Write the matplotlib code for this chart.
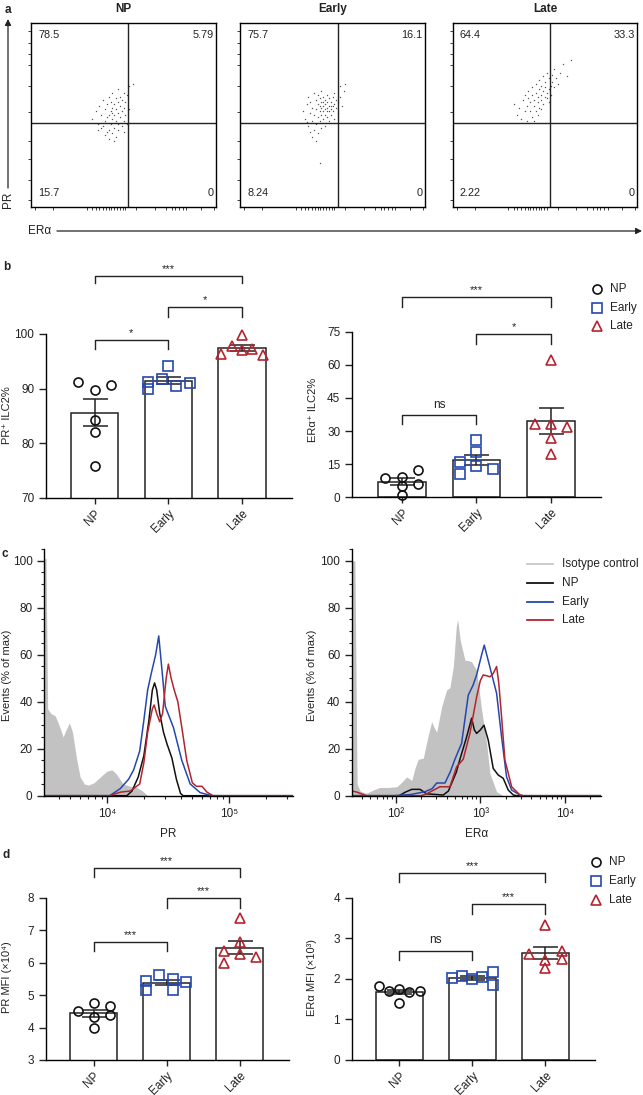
import numpy as np
import matplotlib
matplotlib.use('Agg')
import matplotlib.pyplot as plt
from matplotlib.lines import Line2D
from matplotlib.ticker import FixedLocator, FuncFormatter, MultipleLocator, LogLocator, NullFormatter

plt.rcParams['font.family'] = ['Liberation Sans', 'DejaVu Sans']
plt.rcParams['axes.linewidth'] = 1.0
plt.rcParams['xtick.color'] = '#222222'
plt.rcParams['ytick.color'] = '#222222'

# ---------------- data ----------------
groups = ['NP', 'Early', 'Late']
colors = ['#111111', '#2548b0', '#b3242f']
markers = ['o', 's', '^']

# panel a: quadrant percentages (UL, UR, LL, LR)
a_quads = [[78.5, 5.79, 15.7, 0], [75.7, 16.1, 8.24, 0], [64.4, 33.3, 2.22, 0]]
a_gate_x = [52.3, 53.0, 52.9]
a_gate_y = 45.8
np_dots = [(33,48),(35,52),(36,45),(37,55),(38,50),(38,43),(39,58),(40,47),(40,53),(41,41),(41,56),(42,50),
           (42,60),(43,45),(43,52),(43,57),(44,48),(44,54),(44,62),(45,43),(45,50),(45,56),(46,47),(46,53),
           (46,59),(47,51),(47,45),(47,64),(48,49),(48,55),(48,60),(49,44),(49,52),(49,58),(50,47),(50,54),
           (50,62),(51,50),(51,57),(52,45),(52,61),(53,53),(53,66),(44,40),(46,38),(40,39),(42,37),(36,42),
           (39,44),(47,42),(45,36),(42,42),(50,41),(55,67),(41,49),(47,57),(44,51)]
early_dots = [(34,52),(35,48),(36,56),(37,44),(37,60),(38,51),(38,57),(39,47),(39,54),(40,62),(40,50),(41,45),
              (41,58),(41,53),(42,49),(42,56),(42,61),(43,52),(43,47),(43,59),(44,54),(44,50),(44,57),(44,63),
              (45,48),(45,55),(45,52),(45,60),(46,56),(46,50),(46,53),(46,58),(47,54),(47,49),(47,61),(47,57),
              (48,52),(48,55),(48,59),(48,47),(49,53),(49,57),(49,50),(50,55),(50,60),(50,52),(51,56),(51,48),
              (51,62),(52,54),(52,58),(53,51),(53,57),(54,60),(55,55),(56,63),(57,67),(54,66),(40,42),(42,40),
              (39,38),(41,36),(44,43),(46,44),(38,41),(36,46),(43,24),(45,57),(47,52),(43,55),(49,55)]
late_dots = [(33,56),(35,50),(36,54),(37,48),(38,58),(39,52),(39,61),(40,47),(40,55),(41,59),(41,63),(42,52),
             (42,57),(43,49),(43,61),(43,65),(44,55),(44,58),(45,52),(45,62),(45,67),(46,57),(46,60),(47,54),
             (47,64),(47,69),(48,58),(48,61),(48,66),(49,56),(49,63),(49,71),(50,60),(50,65),(50,68),(51,59),
             (51,73),(51,62),(52,64),(52,70),(53,66),(53,61),(54,68),(54,72),(55,65),(55,75),(56,70),(57,67),
             (58,73),(60,78),(62,71),(64,80),(52,57),(46,50),(44,47),(48,53)]
a_dots = [np_dots, early_dots, late_dots]

# panel b
b_pr_vals = [[91.2, 89.7, 90.6, 84.3, 82.1, 75.8],
             [91.3, 90.0, 91.8, 94.1, 90.5, 91.1],
             [99.9, 97.8, 96.3, 97.0, 97.3, 96.2]]
b_pr_off = [[-0.22, 0, 0.22, 0, 0, 0], [-0.27, -0.27, -0.09, 0, 0.1, 0.29], [0, -0.135, -0.28, 0, 0.135, 0.28]]
b_er_vals = [[8.6, 9.2, 12.4, 6.0, 5.1, 0.9],
             [25.9, 20.7, 15.9, 14.4, 13.0, 10.7],
             [62.4, 33.2, 33.2, 31.8, 26.8, 19.5]]
b_er_off = [[-0.23, 0, 0.22, 0.22, 0, 0], [0, 0, -0.22, 0, 0.22, -0.22], [0, -0.22, 0, 0.22, 0, 0]]
b_pr_sig = [(0, 2, 110.6, 109.4, '***'), (1, 2, 104.9, 103.1, '*'), (0, 1, 98.9, 97.3, '*')]
b_er_sig = [(0, 2, 90.5, 86.4, '***'), (1, 2, 73.8, 69.5, '*'), (0, 1, 37.1, 33.2, 'ns')]

# panel d
d_pr_vals = [[4.52, 4.75, 4.67, 4.39, 4.32, 3.98],
             [5.43, 5.62, 5.50, 5.39, 5.16, 5.16],
             [7.37, 6.62, 6.37, 6.26, 6.18, 5.98]]
d_pr_off = [[-0.22, 0, 0.22, 0.22, 0, 0], [-0.28, -0.1, 0.09, 0.27, -0.28, 0.09], [0, 0, -0.22, 0, 0.23, -0.22]]
d_er_vals = [[1.83, 1.71, 1.74, 1.67, 1.71, 1.41],
             [2.01, 2.06, 2.00, 2.05, 2.17, 1.86],
             [3.32, 2.61, 2.46, 2.69, 2.49, 2.26]]
d_er_off = [[-0.28, -0.14, 0, 0.14, 0.28, 0], [-0.275, -0.14, 0, 0.14, 0.28, 0.28], [0, -0.23, 0, 0.23, 0.23, 0]]
d_pr_sig = [(0, 2, 8.92, 8.63, '***'), (1, 2, 7.98, 7.69, '***'), (0, 1, 6.64, 6.36, '***')]
d_er_sig = [(0, 2, 4.61, 4.39, '***'), (1, 2, 3.84, 3.61, '***'), (0, 1, 2.69, 2.46, 'ns')]

# panel c histograms (fluorescence intensity, % of max)
pr_iso_x = [3050, 3150, 3250, 3450, 3750, 4100, 4350, 4600, 4900, 5200, 5600, 6000, 6500, 7000, 7800, 8800,
            10000, 11000, 12000, 13500, 15500, 17500, 19500, 21500, 335000]
pr_iso_y = [101, 101, 37, 35, 34, 29, 25, 28, 31, 27, 16, 8, 5, 4.5, 5.5, 8, 10.5, 11, 9, 5, 4, 3.5, 2, 0, 0]
pr_np_x = [3050, 14500, 16000, 18000, 20000, 22000, 23500, 24500, 25500, 27000, 29000, 31000, 34000, 37000, 40000, 42000, 335000]
pr_np_y = [0, 0, 2, 8, 17, 32, 45, 48, 45, 35, 27, 22, 16, 7, 1, 0, 0]
pr_early_x = [3050, 10500, 12800, 15000, 16500, 18500, 20000, 21500, 23000, 25000, 26500, 28000, 30000, 35000,
              41000, 48000, 58000, 72000, 335000]
pr_early_y = [0, 0, 3, 7, 11, 19, 32, 45, 52, 60, 68, 55, 38, 29, 15, 5, 1.3, 0, 0]
pr_late_x = [3050, 10500, 12800, 15500, 18500, 20000, 21500, 23500, 24300, 25500, 27000, 28500, 30500, 31800,
             33500, 35500, 38000, 41000, 45000, 50000, 54000, 60000, 66000, 74000, 335000]
pr_late_y = [0, 0, 1.5, 2, 5, 14, 27, 37, 38.6, 35, 31.5, 35, 50, 56, 50, 45, 40, 29, 15, 5.5, 4, 4, 1.5, 0, 0]

er_iso_x = [30.5, 33, 35, 38, 45, 55, 65, 80, 103, 120, 135, 155, 170, 185, 212, 240, 266, 285, 305, 350, 400,
            437, 480, 520, 540, 580, 658, 720, 789, 850, 904, 1036, 1186, 1297, 1556, 1864, 26400]
er_iso_y = [100, 100, 5, 2, 1, 2.5, 3.5, 3.5, 3.8, 6, 8, 6.5, 12, 15.5, 16, 25, 31.5, 29, 27, 38, 45,
            46, 55, 72, 75, 66, 57.7, 57.5, 57, 55, 53.5, 36.5, 22.3, 9.5, 1.7, 0, 0]
er_np_x = [30.5, 110, 130, 155, 194, 232, 365, 420, 458, 520, 574, 689, 789, 850, 904, 1000, 1104, 1239, 1420,
           1626, 1864, 2137, 2450, 2700, 26400]
er_np_y = [0, 0, 1.5, 2.7, 2.7, 0.8, 0.3, 2, 5.3, 10, 15.5, 25, 33, 28, 26.5, 28, 30, 23.7, 11.6, 8.8, 7.4,
           2.4, 0.3, 0, 0]
er_early_x = [30.5, 95, 150, 222, 270, 305, 382, 440, 501, 601, 720, 820, 904, 1036, 1112, 1250, 1420, 1556,
              1782, 2041, 2344, 2938, 3200, 26400]
er_early_y = [0, 0, 0.5, 1.7, 3, 5.4, 5.4, 10, 15.5, 22.3, 42.8, 47, 51.4, 60, 64.1, 57, 49.2, 43.6, 25, 8,
              2.4, 0.3, 0, 0]
er_late_x = [30.5, 35, 45, 200, 232, 333, 437, 525, 628, 753, 904, 1000, 1082, 1200, 1297, 1420, 1556, 1650,
             1782, 1951, 2344, 2938, 3200, 26400]
er_late_y = [2, 1.5, 0, 0, 0.8, 3.8, 3.8, 12.3, 15.5, 26.5, 42, 49, 51.4, 51, 50.6, 52, 55, 48, 33.6, 15.2,
             3.8, 0.3, 0, 0]

# ---------------- figure ----------------
W, H = 643, 1095
fig = plt.figure(figsize=(W / 100, H / 100), dpi=100)
TXT = '#222222'
FS = 8.5


def px_axes(l, t, r, b, z=1):
    return fig.add_axes([l / W, 1 - b / H, (r - l) / W, (b - t) / H], zorder=z)


def ftext(x, y, s, **kw):
    kw.setdefault('color', TXT)
    return fig.text(x / W, 1 - y / H, s, **kw)


# ---- panel a ----
a_boxes = [(31, 216), (240, 425), (453, 637)]
for i, (l, r) in enumerate(a_boxes):
    ax = px_axes(l, 23.3, r, 206.7)
    ax.set_xlim(0, 100)
    ax.set_ylim(0, 100)
    xs = [p[0] for p in a_dots[i]]
    ys = [p[1] for p in a_dots[i]]
    ax.scatter(xs, ys, s=1.0, c='#555555', linewidths=0, zorder=2)
    ax.axvline(a_gate_x[i], color='#222', lw=1)
    ax.axhline(a_gate_y, color='#222', lw=1)
    q = a_quads[i]
    ax.text(3.8, 96.3, '{:g}'.format(q[0]), ha='left', va='top', fontsize=7.8, color=TXT)
    ax.text(98.8, 96.3, '{:g}'.format(q[1]), ha='right', va='top', fontsize=7.8, color=TXT)
    ax.text(3.8, 4.5, '{:g}'.format(q[2]), ha='left', va='bottom', fontsize=7.8, color=TXT)
    ax.text(98.8, 4.5, '{:g}'.format(q[3]), ha='right', va='bottom', fontsize=7.8, color=TXT)
    ax.set_xticks([2, 12, 30, 33, 35, 37, 39, 40.5, 42, 43.5, 45, 46.5, 48, 49.5, 51, 57, 67, 73, 76, 78, 80, 82, 84, 92, 99])
    ax.set_yticks([3.6, 14.5, 26, 36, 51.5, 66, 77, 83, 89, 96])
    ax.tick_params(length=2, width=0.6, labelbottom=False, labelleft=False, direction='out')
    ax.set_title(groups[i], fontsize=8.5, fontweight='bold', color=TXT, pad=8)

# overlay axes for arrows
ov = fig.add_axes([0, 0, 1, 1], zorder=0)
ov.set_xlim(0, W)
ov.set_ylim(H, 0)
ov.axis('off')
ov.patch.set_alpha(0)
ov.annotate('', xy=(8, 19), xytext=(8, 188),
            arrowprops=dict(arrowstyle='-|>', lw=0.9, color='#222', mutation_scale=9, shrinkA=0, shrinkB=0))
ov.annotate('', xy=(642, 231), xytext=(57, 231),
            arrowprops=dict(arrowstyle='-|>', lw=0.9, color='#222', mutation_scale=9, shrinkA=0, shrinkB=0))
ftext(8, 200, 'PR', rotation=90, ha='center', va='center', fontsize=8.5)
ftext(51, 231, 'ERα', ha='right', va='center', fontsize=8.5)


# ---- bar/scatter helper ----
def scatter_bar(ax, vals, offs, sig, ylim, yticks, xlim):
    for i, v in enumerate(vals):
        v = np.asarray(v)
        m = v.mean()
        sem = v.std(ddof=1) / np.sqrt(len(v))
        ax.bar(i, m, width=0.64, facecolor='white', edgecolor='#222', lw=1.1, zorder=1)
        ax.errorbar(i, m, yerr=sem, fmt='none', ecolor='#222', elinewidth=1.1, capsize=9, capthick=1.1, zorder=3)
        ax.plot(i + np.asarray(offs[i]), v, marker=markers[i], ls='none', mfc='none', mec=colors[i],
                ms=6.5 if markers[i] != '^' else 7, mew=1.2, zorder=4, clip_on=False)
    ax.set_xlim(*xlim)
    ax.set_ylim(*ylim)
    ax.set_yticks(yticks)
    ax.set_xticks(range(3))
    ax.set_xticklabels(groups, rotation=45, ha='right', rotation_mode='anchor', fontsize=FS, color=TXT)
    ax.tick_params(axis='y', labelsize=FS, length=5, width=1)
    ax.tick_params(axis='x', length=4, width=1, pad=3)
    for s in ['top', 'right']:
        ax.spines[s].set_visible(False)
    for x1, x2, y, yl, t in sig:
        ax.plot([x1, x1, x2, x2], [yl, y, y, yl], color='#222', lw=1, clip_on=False)
        ax.annotate(t, xy=((x1 + x2) / 2, y), xytext=(0, 1.5 if t != 'ns' else 3.5), textcoords='offset points',
                    ha='center', va='bottom', fontsize=8 if t != 'ns' else 8.5, color=TXT, annotation_clip=False)


def marker_legend(x, y0, dy):
    for i, g in enumerate(groups):
        y = y0 + i * dy
        fig.add_artist(Line2D([x / W], [1 - y / H], marker=markers[i], ls='none', mfc='none', mec=colors[i],
                              ms=6.5, mew=1.2, transform=fig.transFigure))
        ftext(x + 13, y, g, ha='left', va='center', fontsize=FS)


# ---- panel b ----
ax = px_axes(46, 334, 292, 498)
scatter_bar(ax, b_pr_vals, b_pr_off, b_pr_sig, (70, 100), [70, 80, 90, 100], (-0.658, 2.678))
ax = px_axes(352, 331.7, 600.7, 497.3)
scatter_bar(ax, b_er_vals, b_er_off, b_er_sig, (0, 75), [0, 15, 30, 45, 60, 75], (-0.671, 2.667))
marker_legend(597, 289, 18.5)
ftext(7.5, 415, 'PR⁺ ILC2%', rotation=90, ha='center', va='center', fontsize=8)
ftext(312.5, 410, 'ERα⁺ ILC2%', rotation=90, ha='center', va='center', fontsize=8)

# ---- panel d ----
ax = px_axes(45.7, 897.7, 289.3, 1060)
scatter_bar(ax, d_pr_vals, d_pr_off, d_pr_sig, (3, 8), [3, 4, 5, 6, 7, 8], (-0.656, 2.68))
ax = px_axes(351.7, 897.7, 595, 1060)
scatter_bar(ax, d_er_vals, d_er_off, d_er_sig, (0, 4), [0, 1, 2, 3, 4], (-0.65, 2.68))
marker_legend(596, 862, 19)
ftext(7.5, 977, 'PR MFI (×10⁴)', rotation=90, ha='center', va='center', fontsize=8)
ftext(312, 977, 'ERα MFI (×10³)', rotation=90, ha='center', va='center', fontsize=8)

# ---- panel c ----
sup = str.maketrans('0123456789-', '⁰¹²³⁴⁵⁶⁷⁸⁹⁻')


def logfmt(v, pos):
    e = int(round(np.log10(v)))
    return '10' + str(e).translate(sup)


def hist_axes(ax, xlim, majors, iso, lines, xlabel):
    ax.fill_between(iso[0], iso[1], 0, color='#c2c2c2', lw=0, zorder=1)
    for (xx, yy), c in zip(lines, colors):
        ax.plot(xx, yy, color=c, lw=1.1, zorder=2)
    ax.set_xscale('log')
    ax.set_xlim(*xlim)
    ax.set_ylim(0, 105)
    ax.xaxis.set_major_locator(FixedLocator(majors))
    ax.xaxis.set_major_formatter(FuncFormatter(logfmt))
    ax.xaxis.set_minor_locator(LogLocator(base=10, subs=np.arange(2, 10)))
    ax.xaxis.set_minor_formatter(NullFormatter())
    ax.yaxis.set_major_locator(FixedLocator([0, 20, 40, 60, 80, 100]))
    ax.yaxis.set_minor_locator(MultipleLocator(5))
    ax.tick_params(which='major', length=5, width=1, labelsize=FS)
    ax.tick_params(which='minor', length=2.5, width=0.8)
    for s in ['top', 'right']:
        ax.spines[s].set_visible(False)
    ax.set_xlabel(xlabel, fontsize=FS, color=TXT, labelpad=6)


ax = px_axes(44.3, 549, 293, 795.7)
hist_axes(ax, (3050, 335000), [1e4, 1e5], (pr_iso_x, pr_iso_y),
          [(pr_np_x, pr_np_y), (pr_early_x, pr_early_y), (pr_late_x, pr_late_y)], 'PR')
ax = px_axes(352, 549, 600.7, 795.7)
hist_axes(ax, (30.5, 26400), [1e2, 1e3, 1e4], (er_iso_x, er_iso_y),
          [(er_np_x, er_np_y), (er_early_x, er_early_y), (er_late_x, er_late_y)], 'ERα')
ftext(7.5, 675, 'Events (% of max)', rotation=90, ha='center', va='center', fontsize=8)
ftext(312, 675, 'Events (% of max)', rotation=90, ha='center', va='center', fontsize=8)

c_leg = ['Isotype control', 'NP', 'Early', 'Late']
c_leg_col = ['#c8c8c8'] + colors
for i, (lab, c) in enumerate(zip(c_leg, c_leg_col)):
    y = 564 + i * 18.8
    fig.add_artist(Line2D([526.7 / W, 552.7 / W], [1 - y / H, 1 - y / H], color=c, lw=1.3,
                          transform=fig.transFigure))
    ftext(561.7, y, lab, ha='left', va='center', fontsize=FS)

# panel letters
for lab, x, y in [('a', 8, 10), ('b', 7, 267), ('c', 5, 554), ('d', 6, 855)]:
    ftext(x, y, lab, ha='center', va='center', fontsize=8.5, fontweight='bold')

fig.savefig('out.png', dpi=100)
